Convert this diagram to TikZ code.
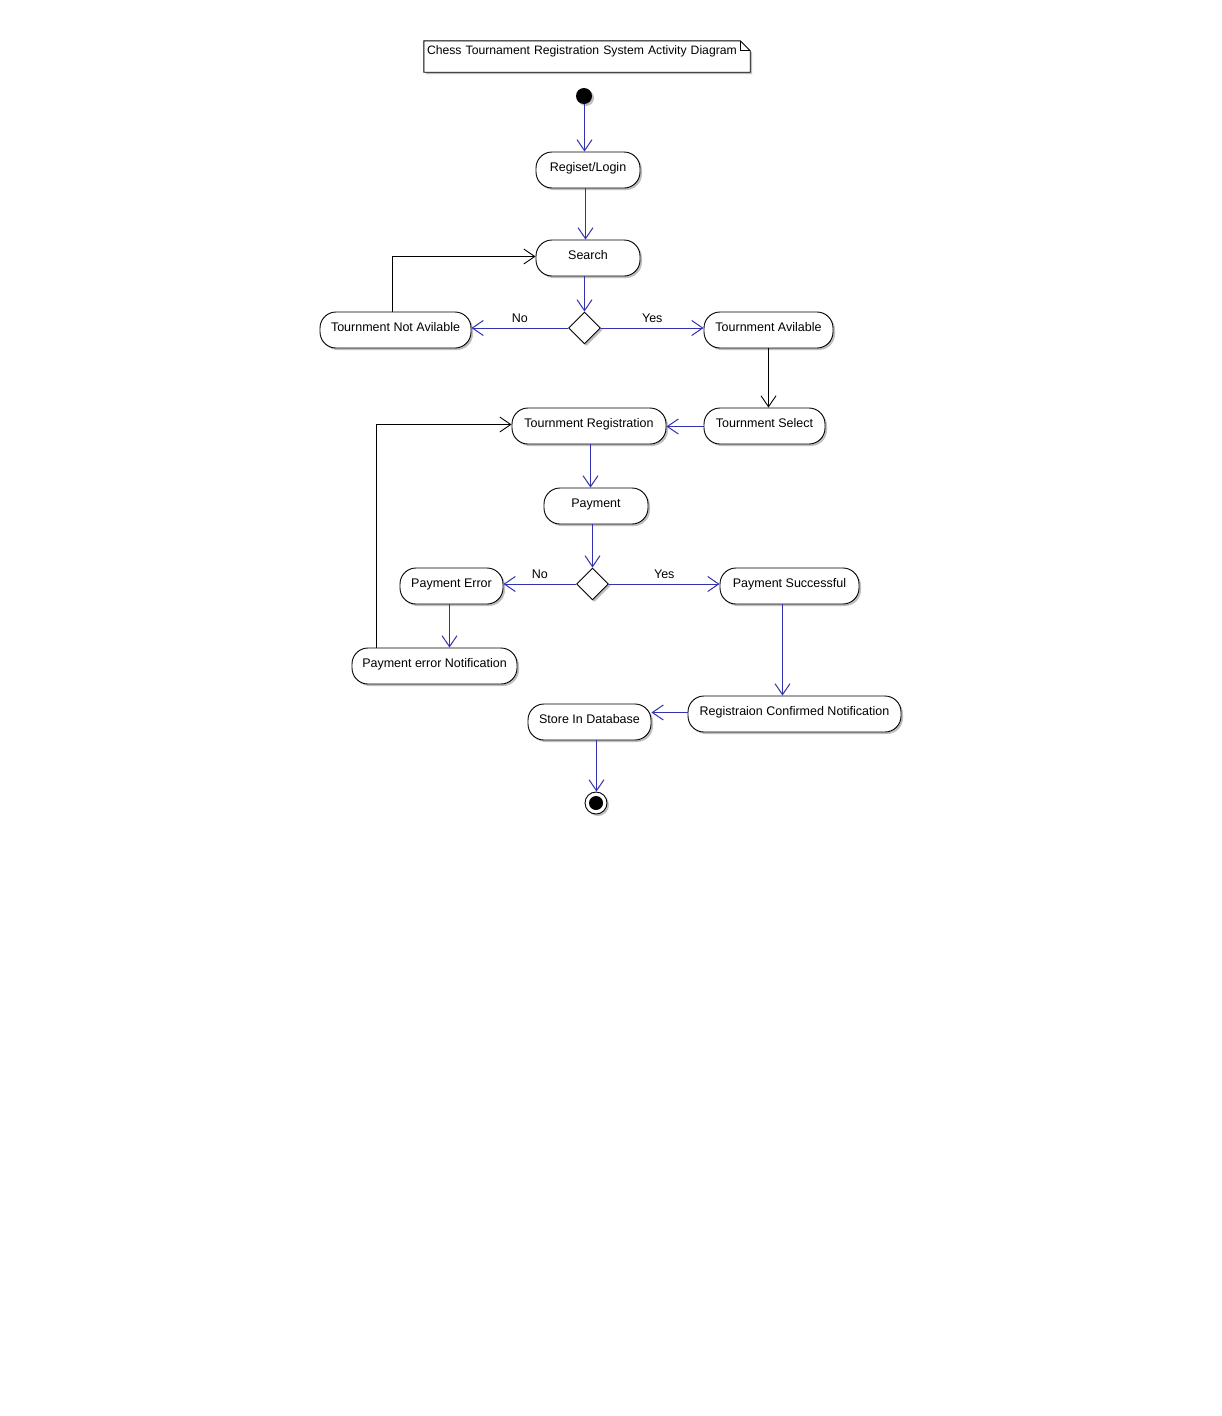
\documentclass[tikz,border=0pt]{standalone}
\usepackage{fontspec}
\setmainfont{Liberation Sans}
\usetikzlibrary{arrows.meta,shapes.geometric,shadows}
\definecolor{flowblue}{RGB}{50,50,175}
\begin{document}
\begin{tikzpicture}[x=1pt,y=-1pt,
  every node/.style={font=\fontsize{12.5}{14}\selectfont},
  shadowed/.style={drop shadow={shadow xshift=2pt,shadow yshift=-2pt,fill=black!25,opacity=1}},
  act/.style={draw=black,line width=0.9pt,fill=white,rounded corners=16pt,
    minimum height=36pt,inner xsep=2pt,text height=9pt,text depth=6.4pt,shadowed},
  decision/.style={draw=black,line width=0.9pt,fill=white,diamond,aspect=1,
    minimum width=32pt,minimum height=32pt,inner sep=0pt,shadowed},
  flow/.style={draw=flowblue,line width=1pt,-{Straight Barb[length=11pt,width=15pt,line width=1pt]}},
  back/.style={draw=black,line width=0.9pt,-{Straight Barb[length=11pt,width=15pt,line width=0.9pt]}},
  guard/.style={midway,anchor=south,yshift=3.5pt,inner sep=0pt,text height=9pt,text depth=2pt}
]
\useasboundingbox[fill=white] (0,0) rectangle (1221,1416);

% title note
\node[inner sep=0pt,minimum width=326pt,minimum height=31pt] (title) at (587,56.5) {};
\fill[black!25] ([shift={(2pt,-2pt)}]title.north west) -- ([shift={(-8pt,-2pt)}]title.north east)
  -- ([shift={(2pt,-12pt)}]title.north east) -- ([shift={(2pt,-2pt)}]title.south east)
  -- ([shift={(2pt,-2pt)}]title.south west) -- cycle;
\draw[line width=0.9pt,fill=white] (title.north west) -- ([xshift=-10pt]title.north east)
  -- ([yshift=-10pt]title.north east) -- (title.south east) -- (title.south west) -- cycle;
\draw[line width=0.9pt] ([xshift=-10pt]title.north east) -- ([shift={(-10pt,-10pt)}]title.north east)
  -- ([yshift=-10pt]title.north east);
\node[inner sep=0pt,text width=320pt,align=left,text height=9pt,text depth=13pt,
      font=\fontsize{12.2}{14}\selectfont] at (title.center)
      {Chess Tournament Registration System Activity Diagram};

% start / end
\node[circle,fill=black,minimum size=16pt,inner sep=0pt,shadowed] (start) at (584,96) {};
\node[circle,draw=black,line width=0.9pt,fill=white,minimum size=22pt,inner sep=0pt,shadowed] (end) at (596,803) {};
\fill[black] (end.center) circle (7pt);

% activities
\node[act,minimum width=104pt] (reg) at (588,170) {Regiset/Login};
\node[act,minimum width=104pt] (search) at (588,258) {Search};
\node[decision] (d1) at (584.5,328) {};
\node[act,minimum width=151pt] (tna) at (395.5,330) {Tournment Not Avilable};
\node[act,minimum width=129pt] (ta) at (768.5,330) {Tournment Avilable};
\node[act,minimum width=121pt] (ts) at (764.5,426) {Tournment Select};
\node[act,minimum width=154pt] (tr) at (589,426) {Tournment Registration};
\node[act,minimum width=104pt] (pay) at (596,506) {Payment};
\node[decision] (d2) at (592.5,584) {};
\node[act,minimum width=103pt] (perr) at (451.5,586) {Payment Error};
\node[act,minimum width=139pt] (psucc) at (789.5,586) {Payment Successful};
\node[act,minimum width=165pt] (pen) at (434.5,666) {Payment error Notification};
\node[act,minimum width=213pt] (rcn) at (794.5,714) {Registraion Confirmed Notification};
\node[act,minimum width=123pt] (store) at (589.5,722) {Store In Database};

% connectors
\draw[flow] ([xshift=0.5pt]start.south) -- ([xshift=0.5pt]start.south |- reg.north);
\draw[flow] ([xshift=-2.5pt]reg.south) -- ([xshift=-2.5pt]search.north);
\draw[flow] (d1.north |- search.south) -- (d1.north);
\draw[flow] (d1.west) -- (d1.west -| tna.east) node[guard] (no1) {No};
\draw[flow] (d1.east) -- (d1.east -| ta.west) node[guard] (yes1) {Yes};
\draw[back] ([xshift=-3pt]tna.north) |- ([yshift=1.5pt]search.west);
\draw[back] (ta.south) -- (ta.south |- ts.north);
\draw[flow] ([yshift=-0.5pt]ts.west) -- ([yshift=-0.5pt]tr.east);
\draw[back] ([xshift=-58pt]pen.north) |- ([yshift=1.5pt]tr.west);
\draw[flow] ([xshift=1.5pt]tr.south) -- ([xshift=1.5pt]tr.south |- pay.north);
\draw[flow] (d2.north |- pay.south) -- (d2.north);
\draw[flow] (d2.west) -- (d2.west -| perr.east) node[guard] (no2) {No};
\draw[flow] (d2.east) -- (d2.east -| psucc.west) node[guard] (yes2) {Yes};
\draw[flow] ([xshift=-2pt]perr.south) -- ([xshift=-2pt]perr.south |- pen.north);
\draw[flow] ([xshift=-7pt]psucc.south) -- ([xshift=-7pt]psucc.south |- rcn.north);
\draw[flow] ([yshift=1.5pt]rcn.west) -- ([yshift=1.5pt]rcn.west -| store.east);
\draw[flow] ([xshift=0.5pt]end.north |- store.south) -- ([xshift=0.5pt]end.north);
\end{tikzpicture}
\end{document}
